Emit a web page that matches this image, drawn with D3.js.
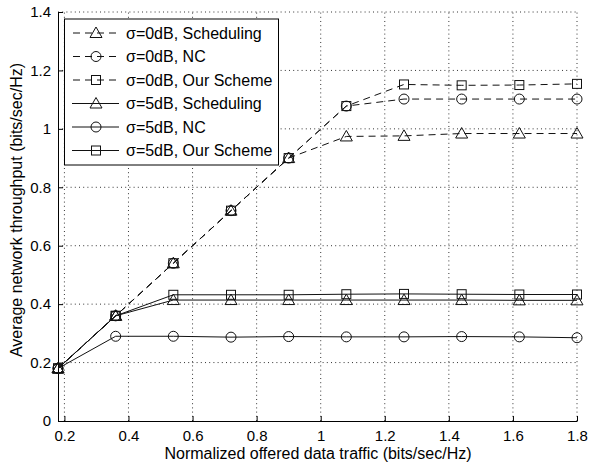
<!DOCTYPE html>
<html>
<head>
<meta charset="utf-8">
<script src="https://cdn.jsdelivr.net/npm/d3@7"></script>
<style>
  body { margin: 0; background: #fff; }
  svg { font-family: "Liberation Sans", Arial, sans-serif; }
</style>
</head>
<body>
<svg id="chart" width="589" height="465"></svg>
<script>
// offered traffic (x) and throughput of each curve
const traffic = [0.18, 0.36, 0.54, 0.72, 0.90, 1.08, 1.26, 1.44, 1.62, 1.80];
const sched0 = [0.18, 0.36, 0.54, 0.72, 0.90, 0.974, 0.976, 0.984, 0.984, 0.984];
const nc0    = [0.18, 0.36, 0.54, 0.72, 0.90, 1.078, 1.102, 1.102, 1.102, 1.102];
const ours0  = [0.18, 0.36, 0.54, 0.72, 0.90, 1.078, 1.152, 1.149, 1.150, 1.154];
const sched5 = [0.18, 0.36, 0.414, 0.414, 0.414, 0.414, 0.414, 0.414, 0.413, 0.413];
const nc5    = [0.18, 0.290, 0.290, 0.287, 0.289, 0.288, 0.288, 0.289, 0.288, 0.285];
const ours5  = [0.18, 0.36, 0.432, 0.432, 0.432, 0.434, 0.435, 0.434, 0.433, 0.433];
const xTicks = [0.2, 0.4, 0.6, 0.8, 1, 1.2, 1.4, 1.6, 1.8];
const yTicks = [0, 0.2, 0.4, 0.6, 0.8, 1, 1.2, 1.4];

const series = [
  { name: 'σ=0dB, Scheduling', vals: sched0, marker: 'tri', dash: true },
  { name: 'σ=0dB, NC', vals: nc0, marker: 'circ', dash: true },
  { name: 'σ=0dB, Our Scheme', vals: ours0, marker: 'sq', dash: true },
  { name: 'σ=5dB, Scheduling', vals: sched5, marker: 'tri', dash: false },
  { name: 'σ=5dB, NC', vals: nc5, marker: 'circ', dash: false },
  { name: 'σ=5dB, Our Scheme', vals: ours5, marker: 'sq', dash: false }
];

const svg = d3.select('#chart');
const padL = 58, padR = 577, padT = 12, padB = 421;

const x = d3.scaleLinear().domain([0.18, 1.8]).range([padL, padR]);
const y = d3.scaleLinear().domain([0, 1.4]).range([padB, padT]);

// dotted grid
const grid = svg.append('g').attr('stroke', '#000').attr('stroke-width', 0.8)
  .attr('stroke-dasharray', '1,3.2');
grid.selectAll('.gx').data(xTicks).enter().append('line')
  .attr('x1', d => x(d)).attr('x2', d => x(d)).attr('y1', padB).attr('y2', padT);
grid.selectAll('.gy').data(yTicks.slice(1)).enter().append('line')
  .attr('y1', d => y(d)).attr('y2', d => y(d)).attr('x1', padL).attr('x2', padR);

// axes with inward ticks
const xAxis = svg.append('g').attr('transform', `translate(0,${padB})`)
  .call(d3.axisBottom(x).tickValues(xTicks).tickSizeInner(-5).tickSizeOuter(0).tickPadding(9)
    .tickFormat(d3.format('~g')));
const yAxis = svg.append('g').attr('transform', `translate(${padL},0)`)
  .call(d3.axisLeft(y).tickValues(yTicks).tickSizeInner(-5).tickSizeOuter(0).tickPadding(7)
    .tickFormat(d3.format('~g')));
[xAxis, yAxis].forEach(a => {
  a.selectAll('text').attr('font-size', 15).attr('fill', '#000').attr('font-family', 'Liberation Sans, Arial, sans-serif');
  a.select('.domain').attr('stroke', '#000').attr('stroke-width', 1);
  a.selectAll('.tick line').attr('stroke', '#000');
});

svg.append('text').attr('x', 318).attr('y', 459).attr('text-anchor', 'middle')
  .attr('font-size', 16).text('Normalized offered data traffic (bits/sec/Hz)');
svg.append('text').attr('transform', 'translate(22,210) rotate(-90)').attr('text-anchor', 'middle')
  .attr('font-size', 16).text('Average network throughput (bits/sec/Hz)');

function drawMarker(g, type, cx, cy) {
  if (type === 'tri') {
    g.append('path').attr('d', `M${cx},${cy - 6}L${cx + 6},${cy + 4.5}L${cx - 6},${cy + 4.5}Z`);
  } else if (type === 'circ') {
    g.append('circle').attr('cx', cx).attr('cy', cy).attr('r', 5);
  } else {
    g.append('rect').attr('x', cx - 4.5).attr('y', cy - 4.5).attr('width', 9).attr('height', 9);
  }
}

const line = d3.line().x((d, i) => x(traffic[i])).y(d => y(d));
series.forEach(s => {
  const g = svg.append('g').attr('fill', 'none').attr('stroke', '#111').attr('stroke-width', 1);
  g.append('path').attr('d', line(s.vals)).attr('stroke-dasharray', s.dash ? '7,5' : null);
  s.vals.forEach((v, i) => drawMarker(g, s.marker, x(traffic[i]), y(v)));
});

// legend
const leg = svg.append('g');
leg.append('rect').attr('x', 64.5).attr('y', 19).attr('width', 214).attr('height', 146)
  .attr('fill', '#fff').attr('stroke', '#000').attr('stroke-width', 1);
series.forEach((s, i) => {
  const ly = 33 + i * 23.5;
  const g = leg.append('g').attr('fill', 'none').attr('stroke', '#111').attr('stroke-width', 1);
  g.append('line').attr('x1', 72).attr('x2', 119).attr('y1', ly).attr('y2', ly)
    .attr('stroke-dasharray', s.dash ? '7,5' : null)
    .attr('stroke-dashoffset', s.dash ? -1 : null);
  drawMarker(g, s.marker, 96, ly);
  leg.append('text').attr('x', 126).attr('y', ly + 5.5).attr('font-size', 16).text(s.name);
});
</script>
</body>
</html>
